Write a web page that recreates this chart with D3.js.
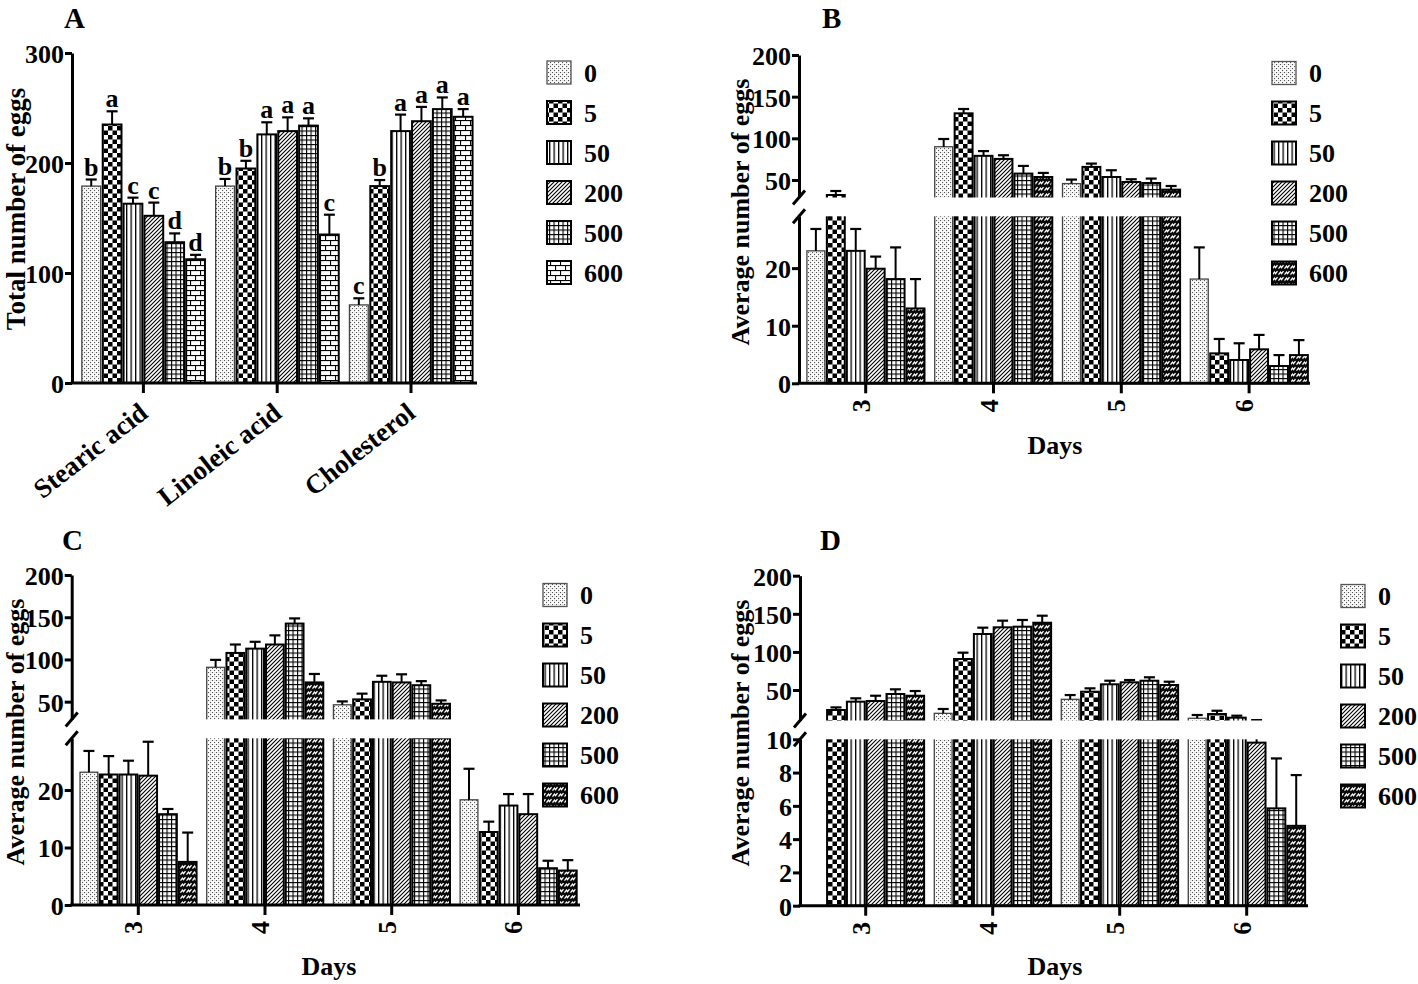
<!DOCTYPE html>
<html><head><meta charset="utf-8">
<script src="https://cdn.jsdelivr.net/npm/d3@7"></script>
<style>
body{margin:0;background:#fff}
text{font-family:"Liberation Serif","Times New Roman",serif;font-weight:bold;fill:#000}
</style>
</head><body>
<svg id="c" width="1418" height="984"></svg>
<script>
// ---------------- data ----------------
const seriesLabels = ["0","5","50","200","500","600"];
const aCategories = ["Stearic acid","Linoleic acid","Cholesterol"];
const aMeans  = [[179,235,163,152,128,112.5],[179,195,226,229,234,135],[71,179,229,238,249,242]];
const aErrors = [[6,12,5.5,12,8,4],[6.5,7,11,12.5,6.6,18],[6,5.5,15,13,10.6,7]];
const aLetters = [["b","a","c","c","d","d"],["b","b","a","a","a","c"],["c","b","a","a","a","a"]];
const days = ["3","4","5","6"];
const bMeans  = [[23,32,23,19.9,18.1,13],[89.9,130,79,75.3,57.7,53.6],[45.7,65.7,53.6,47.6,46.4,38.4],[18.1,5.2,4.05,5.9,3,4.9]];
const bErrors = [[3.8,4.8,3.8,2.1,5.5,5.1],[9.3,5.2,5.7,4.4,9.2,4.9],[4.8,4,8.1,3.3,5.3,4.4],[5.5,2.5,2.9,2.5,1.9,2.6]];
const cMeans  = [[23.1,22.7,22.7,22.5,15.8,7.5],[90.7,107.7,112.8,117.7,142.5,72.8],[46.3,52.7,73.5,72.8,69.5,47.5],[18.3,12.7,17.3,15.8,6.4,6.0]];
const cErrors = [[3.7,3.2,2.4,5.9,0.9,5.1],[8.8,10,8.1,10.8,6.1,10],[4,6.8,7.2,9.6,4.8,4],[5.4,1.8,2,3.5,1.3,1.8]];
const dMeans  = [[0,23.8,34.7,35.6,44.8,42.5],[19.4,90.7,123.5,132.3,133.1,138.3],[37.8,47.8,57.5,60.1,62.2,56.6],[12.9,18.5,13.7,9.8,5.85,4.8]];
const dErrors = [[0,3.4,4.4,6.9,6.1,6.2],[5.7,8.3,8.3,8.7,8.8,9.2],[5.6,4.4,4.7,3,4.5,4.3],[4.3,4.3,2.6,0.7,3,3.05]];
const aTicks = [0,100,200,300];
const lowTicks29 = [0,10,20];
const lowTicks10 = [0,2,4,6,8,10];
const highTicks = [50,100,150,200];

// ---------------- patterns ----------------
const svg = d3.select("#c");
const defs = svg.append("defs");
function pat(id,w,h,draw){
  const p = defs.append("pattern").attr("id",id).attr("patternUnits","userSpaceOnUse")
    .attr("width",w).attr("height",h);
  p.append("rect").attr("width",w).attr("height",h).attr("fill","#fff");
  draw(p);
}
pat("p0",4,4,p=>{
  [[0,0],[2,2]].forEach(([x,y])=>p.append("rect").attr("x",x).attr("y",y).attr("width",1.1).attr("height",1.1).attr("fill","#555"));
  p.append("rect").attr("x",2.5).attr("y",0.5).attr("width",0.8).attr("height",0.8).attr("fill","#999");
});
pat("p5",9,9,p=>{
  p.append("rect").attr("x",0).attr("y",0).attr("width",4.5).attr("height",4.5).attr("fill","#000");
  p.append("rect").attr("x",4.5).attr("y",4.5).attr("width",4.5).attr("height",4.5).attr("fill","#000");
});
pat("p50",4.5,4,p=>{
  p.append("rect").attr("x",0).attr("y",0).attr("width",1.3).attr("height",4).attr("fill","#000");
});
pat("p200",4,4,p=>{
  p.append("path").attr("d","M-1,1 L1,-1 M0,4 L4,0 M3,5 L5,3").attr("stroke","#000").attr("stroke-width",1.1);
});
pat("p500",4.5,4.5,p=>{
  p.append("rect").attr("x",0).attr("y",0).attr("width",1.1).attr("height",4.5).attr("fill","#000");
  p.append("rect").attr("x",0).attr("y",0).attr("width",4.5).attr("height",1.1).attr("fill","#000");
});
pat("p600a",10,10,p=>{
  p.append("rect").attr("x",0).attr("y",0).attr("width",10).attr("height",1.1).attr("fill","#000");
  p.append("rect").attr("x",0).attr("y",5).attr("width",10).attr("height",1.1).attr("fill","#000");
  p.append("rect").attr("x",0).attr("y",0).attr("width",1.1).attr("height",5).attr("fill","#000");
  p.append("rect").attr("x",5).attr("y",5).attr("width",1.1).attr("height",5).attr("fill","#000");
});
pat("p600b",6,6,p=>{
  p.append("rect").attr("width",6).attr("height",6).attr("fill","#0a0a0a");
  p.append("path").attr("d","M0.5,4.6 L2.5,2.1 L3.5,3.6 L5.5,1.1").attr("stroke","#fff").attr("stroke-width",1.3).attr("fill","none");
});

// ---------------- panels ----------------
const panels = [
 {cats:aCategories, means:aMeans, errs:aErrors, letters:aLetters, p600:"p600a",
  axisX:72, axisEnd:477, c0:143.4, step:133.8, xrot:-38,
  segs:[{domain:[0,300], range:[383,53], ticks:aTicks}],
  tag:{t:"A",x:64,y:28}, ytitle:{t:"Total number of eggs",x:25,y:209,fs:27},
  legend:{x:547,y:61}, xtitle:null},
 {cats:days, means:bMeans, errs:bErrors, p600:"p600b",
  axisX:799, axisEnd:1310, c0:865.7, step:127.8, xrot:-90,
  segs:[{domain:[0,29], range:[383.3,216.3], ticks:lowTicks29},{domain:[29,200], range:[197.5,55], ticks:highTicks}],
  tag:{t:"B",x:822,y:28}, ytitle:{t:"Average number of eggs",x:749,y:212,fs:26},
  legend:{x:1272,y:61.5}, xtitle:{t:"Days",x:1055,y:454}},
 {cats:days, means:cMeans, errs:cErrors, p600:"p600b",
  axisX:71.7, axisEnd:580, c0:138.3, step:126.7, xrot:-90,
  segs:[{domain:[0,29], range:[905,738.3], ticks:lowTicks29},{domain:[29,200], range:[719.4,575], ticks:highTicks}],
  tag:{t:"C",x:62,y:550}, ytitle:{t:"Average number of eggs",x:24,y:732,fs:26},
  legend:{x:543,y:583.5}, xtitle:{t:"Days",x:329,y:975}},
 {cats:days, means:dMeans, errs:dErrors, p600:"p600b",
  axisX:800, axisEnd:1308, c0:865.7, step:127, xrot:-90,
  segs:[{domain:[0,10], range:[905.7,739.3], ticks:lowTicks10},{domain:[10,200], range:[720.5,575.7], ticks:highTicks}],
  tag:{t:"D",x:820,y:550}, ytitle:{t:"Average number of eggs",x:749,y:733,fs:26},
  legend:{x:1341,y:584.5}, xtitle:{t:"Days",x:1055,y:975}}
];

const FS = 26;
panels.forEach(cfg=>{
  const g = svg.append("g");
  const pats = ["p0","p5","p50","p200","p500",cfg.p600];
  const n = cfg.cats.length;
  const x0 = d3.scaleBand().domain(cfg.cats)
    .range([cfg.c0 - cfg.step/2, cfg.c0 + cfg.step*(n-0.5)])
    .paddingInner(0.08).paddingOuter(0.04);
  const x1 = d3.scaleBand().domain(seriesLabels).range([0, x0.bandwidth()]).paddingInner(0.1);
  const segs = cfg.segs.map(s=>({...s, scale:d3.scaleLinear().domain(s.domain).range(s.range)}));
  const y0 = segs[0].range[0];

  // bars
  cfg.cats.forEach((c,ci)=>{
    seriesLabels.forEach((s,si)=>{
      const v = cfg.means[ci][si];
      if(!(v>0)) return;
      const bx = x0(c)+x1(s), bw = x1.bandwidth();
      segs.forEach((sg,k)=>{
        const lo = sg.domain[0], hi = sg.domain[1];
        if(v <= lo) return;
        const yb = k===0 ? sg.scale(lo) : sg.scale(lo)+4;
        const yt = v>hi ? sg.scale(hi)-4 : sg.scale(v);
        g.append("rect").attr("x",bx).attr("y",yt).attr("width",bw).attr("height",yb-yt)
          .attr("fill",`url(#${pats[si]})`)
          .attr("stroke", si===0 ? "#444" : "#000")
          .attr("stroke-width", si===0 ? 1.3 : 2);
      });
      // error bar
      const e = cfg.errs[ci][si];
      const top = v+e, cx = bx+bw/2;
      segs.forEach((sg,k)=>{
        const lo = sg.domain[0], hi = sg.domain[1];
        const a = Math.max(v,lo), b = Math.min(top,hi);
        if(b < a) return;
        const ya = (v<lo) ? sg.scale(lo)+4 : sg.scale(a);
        const yb2 = (top>hi) ? sg.scale(hi)-4 : sg.scale(b);
        g.append("line").attr("x1",cx).attr("x2",cx).attr("y1",ya).attr("y2",yb2)
          .attr("stroke","#000").attr("stroke-width",2);
        if(top>=lo && top<=hi){
          g.append("line").attr("x1",cx-5.5).attr("x2",cx+5.5).attr("y1",sg.scale(top)).attr("y2",sg.scale(top))
            .attr("stroke","#000").attr("stroke-width",2.2);
          if(cfg.letters){
            g.append("text").attr("x",cx).attr("y",sg.scale(top)-4).attr("text-anchor","middle")
              .attr("font-size",FS).text(cfg.letters[ci][si]);
          }
        }
      });
    });
  });

  // gap overlay
  for(let k=1;k<segs.length;k++){
    const top = segs[k].range[0], bot = segs[k-1].range[1];
    g.append("rect").attr("x",cfg.axisX+2).attr("y",top).attr("width",cfg.axisEnd-cfg.axisX+4)
      .attr("height",bot-top).attr("fill","#fff");
  }

  // y axes
  segs.forEach(sg=>{
    const ax = g.append("g").attr("transform",`translate(${cfg.axisX},0)`)
      .call(d3.axisLeft(sg.scale).tickValues(sg.ticks).tickSize(7).tickSizeOuter(0).tickPadding(1).tickFormat(d3.format("d")));
    ax.select(".domain").attr("stroke-width",3);
    ax.selectAll(".tick line").attr("stroke-width",3);
    ax.selectAll(".tick text").attr("font-size",FS).attr("font-family",null).attr("dy","0.36em");
  });
  // break marks
  if(segs.length>1){
    [segs[0].range[1], segs[1].range[0]].forEach(yy=>{
      g.append("line").attr("x1",cfg.axisX-6).attr("y1",yy+7).attr("x2",cfg.axisX+6).attr("y2",yy-7)
        .attr("stroke","#000").attr("stroke-width",3);
    });
  }
  // x axis
  g.append("line").attr("x1",cfg.axisX-1.5).attr("x2",cfg.axisEnd).attr("y1",y0).attr("y2",y0)
    .attr("stroke","#000").attr("stroke-width",3);
  cfg.cats.forEach(c=>{
    const cx = x0(c)+x0.bandwidth()/2;
    g.append("line").attr("x1",cx).attr("x2",cx).attr("y1",y0).attr("y2",y0+10)
      .attr("stroke","#000").attr("stroke-width",3);
    if(cfg.xrot===-90){
      g.append("text").attr("transform",`translate(${cx+4},${y0+16}) rotate(-90)`)
        .attr("text-anchor","end").attr("font-size",FS).text(c);
    } else {
      g.append("text").attr("transform",`translate(${cx+6},${y0+33}) rotate(${cfg.xrot})`)
        .attr("text-anchor","end").attr("font-size",FS+1).text(c);
    }
  });

  // titles
  g.append("text").attr("x",cfg.tag.x).attr("y",cfg.tag.y).attr("font-size",29).text(cfg.tag.t);
  g.append("text").attr("transform",`translate(${cfg.ytitle.x},${cfg.ytitle.y}) rotate(-90)`)
    .attr("text-anchor","middle").attr("font-size",cfg.ytitle.fs).text(cfg.ytitle.t);
  if(cfg.xtitle){
    g.append("text").attr("x",cfg.xtitle.x).attr("y",cfg.xtitle.y).attr("text-anchor","middle")
      .attr("font-size",FS).text(cfg.xtitle.t);
  }

  // legend
  seriesLabels.forEach((s,si)=>{
    const ly = cfg.legend.y + si*40;
    g.append("rect").attr("x",cfg.legend.x).attr("y",ly).attr("width",24).attr("height",23)
      .attr("fill",`url(#${pats[si]})`)
      .attr("stroke", si===0 ? "#555" : "#000").attr("stroke-width", si===0 ? 1.3 : 2);
    g.append("text").attr("x",cfg.legend.x+37).attr("y",ly+11.5).attr("dy","0.36em")
      .attr("font-size",FS).text(s);
  });
});
</script>
</body></html>
